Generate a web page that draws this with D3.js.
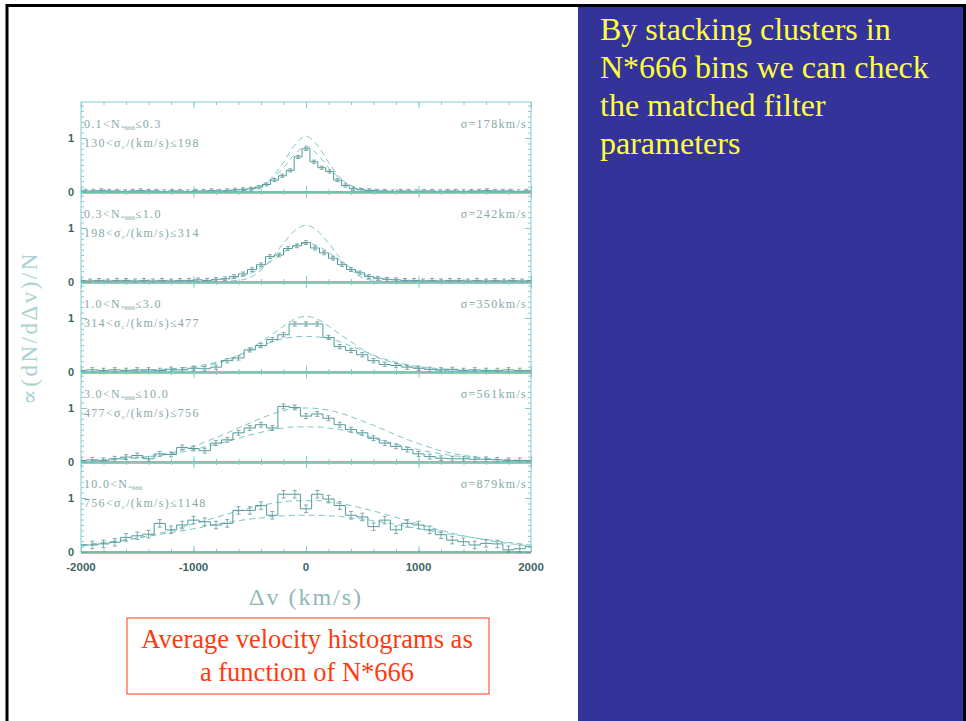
<!DOCTYPE html>
<html>
<head>
<meta charset="utf-8">
<script src="https://cdn.jsdelivr.net/npm/d3@7"></script>
<style>
	html, body { margin: 0; padding: 0; background: #fff; overflow: hidden; }
</style>
</head>
<body>
<div id="slide"></div>
<script>
	// ---- data ----
	var velocityTicks = [-2000, -1000, 0, 1000, 2000];
	var minorVelocityTicks = d3.range(-2000, 2001, 200);
	var nLower = ["0.1", "0.3", "1.0", "3.0", "10.0"];
	var nUpper = ["0.3", "1.0", "3.0", "10.0", null];
	var sigmaLower = ["130", "198", "314", "477", "756"];
	var sigmaUpper = ["198", "314", "477", "756", "1148"];
	var sigmaFit = [178, 242, 350, 561, 879];

	// histogram bins are centred on 0: bin k spans (k-0.5)*w .. (k+0.5)*w
	var binWidths = [70, 80, 100, 100, 100];
	var binFirstK = [-28, -25, -20, -20, -20];
	var errHalf = [0.03, 0.035, 0.04, 0.045, 0.07];

	var hist1 = [0.02,0.02,0.03,0.02,0.02,0.01,0.02,0.03,0.02,0.02,0.01,0.02,0.02,0.01,0.02,0.02,0.03,0.02,0.03,0.04,
		0.05,0.06,0.09,0.14,0.22,0.30,0.40,0.65,0.80,0.56,0.45,0.38,0.22,0.12,0.06,0.04,0.03,
		0.02,0.02,0.01,0.02,0.02,0.01,0.02,0.02,0.01,0.02,0.02,0.01,0.02,0.02,0.03,0.02,0.02,0.02,0.01,0.02];
	var hist2 = [0.03,0.02,0.03,0.02,0.03,0.03,0.02,0.03,0.02,0.03,0.02,0.03,0.03,0.04,0.03,0.05,0.06,
		0.10,0.15,0.23,0.32,0.47,0.50,0.62,0.67,0.73,0.63,0.54,0.44,0.32,0.23,0.17,0.10,0.07,0.05,
		0.04,0.03,0.03,0.02,0.03,0.02,0.03,0.03,0.02,0.03,0.02,0.03,0.02,0.03,0.02,0.03];
	var hist3 = [0.03,0.04,0.03,0.04,0.03,0.04,0.04,0.03,0.05,0.04,
		0.07,0.06,0.09,0.21,0.26,0.41,0.49,0.60,0.69,0.89,0.89,0.89,0.64,0.47,0.40,0.32,0.21,0.14,0.12,0.09,0.07,0.05,
		0.04,0.05,0.03,0.04,0.03,0.03,0.04,0.03,0.03];
	var hist4 = [0.03,0.04,0.03,0.06,0.09,0.12,0.06,0.15,0.14,0.27,0.25,0.21,0.35,0.41,0.54,0.63,0.69,0.63,1.03,1.01,
		0.85,0.89,0.81,0.69,0.60,0.54,0.44,0.35,0.29,0.23,0.15,0.10,0.07,0.06,0.06,0.05,0.05,0.04,0.03,0.03,0.03];
	var hist5 = [0.13,0.13,0.15,0.18,0.27,0.30,0.33,0.53,0.41,0.50,0.59,0.56,0.50,0.53,0.77,0.77,0.86,0.68,1.07,1.07,
		0.80,1.07,0.98,0.86,0.68,0.65,0.47,0.59,0.41,0.53,0.50,0.41,0.32,0.22,0.19,0.13,0.16,0.15,0.04,0.06,0.10];

	// dashed model curves sampled on a common velocity grid
	var fitGrid = [-2000,-1600,-1200,-1000,-800,-600,-500,-400,-300,-200,-100,0,100,200,300,400,500,600,800,1000,1200,1600,2000];
	var fitHigh1 = [0.01,0.01,0.01,0.01,0.01,0.02,0.04,0.10,0.27,0.55,0.87,1.03,0.87,0.55,0.27,0.10,0.04,0.02,0.01,0.01,0.01,0.01,0.01];
	var fitLow1  = [0.01,0.01,0.01,0.01,0.01,0.03,0.06,0.12,0.25,0.45,0.70,0.85,0.70,0.45,0.25,0.12,0.06,0.03,0.01,0.01,0.01,0.01,0.01];
	var fitHigh2 = [0.01,0.01,0.01,0.01,0.01,0.03,0.08,0.22,0.45,0.72,0.95,1.05,0.95,0.72,0.45,0.22,0.08,0.03,0.01,0.01,0.01,0.01,0.01];
	var fitLow2  = [0.01,0.01,0.01,0.02,0.04,0.09,0.15,0.26,0.40,0.55,0.67,0.72,0.67,0.55,0.40,0.26,0.15,0.09,0.04,0.02,0.01,0.01,0.01];
	var fitHigh3 = [0.00,0.01,0.03,0.07,0.16,0.30,0.42,0.56,0.70,0.85,0.98,1.03,0.98,0.85,0.70,0.56,0.42,0.30,0.16,0.07,0.03,0.01,0.00];
	var fitLow3  = [0.01,0.02,0.06,0.10,0.18,0.31,0.40,0.48,0.56,0.62,0.65,0.66,0.65,0.62,0.56,0.48,0.40,0.31,0.18,0.10,0.06,0.02,0.01];
	var fitHigh4 = [0.02,0.06,0.17,0.29,0.45,0.63,0.72,0.81,0.89,0.95,0.99,1.00,0.99,0.96,0.91,0.84,0.76,0.68,0.50,0.34,0.21,0.07,0.02];
	var fitLow4  = [0.02,0.06,0.15,0.23,0.33,0.44,0.50,0.55,0.60,0.63,0.65,0.65,0.65,0.63,0.60,0.55,0.50,0.44,0.33,0.23,0.15,0.06,0.02];
	var fitHigh5 = [0.11,0.22,0.40,0.52,0.64,0.76,0.81,0.86,0.90,0.93,0.95,0.95,0.95,0.93,0.90,0.86,0.81,0.76,0.64,0.52,0.40,0.22,0.11];
	var fitLow5  = [0.13,0.23,0.36,0.43,0.51,0.58,0.61,0.63,0.66,0.67,0.68,0.68,0.68,0.67,0.66,0.63,0.61,0.58,0.51,0.43,0.36,0.23,0.13];

	var histograms = [hist1, hist2, hist3, hist4, hist5];
	var fitsHigh = [fitHigh1, fitHigh2, fitHigh3, fitHigh4, fitHigh5];
	var fitsLow = [fitLow1, fitLow2, fitLow3, fitLow4, fitLow5];

	var bulletLines = ["By stacking clusters in", "N*666 bins we can check", "the matched filter", "parameters"];
	var captionLines = ["Average velocity histograms as", "a function of N*666"];

	// ---- layout ----
	var W = 966, H = 721;
	var plotLeft = 81, plotRight = 531;
	var panelZero = [192, 282, 372, 462, 552];
	var panelHeight = 90;
	var unitPx = 54;

	var frameColor = "#86cccc";
	var histColor = "#4f9c9c";
	var fitColor = "#7cc6c6";
	var labelColor = "#86a8a8";
	var tickTextColor = "#3f6464";
	var serif = "'Liberation Serif', 'DejaVu Serif', serif";

	var svg = d3.select("#slide").append("svg")
		.attr("width", W)
		.attr("height", H)
		.style("display", "block");

	svg.append("rect").attr("width", W).attr("height", H).attr("fill", "#fff");

	// right hand text panel
	svg.append("rect")
		.attr("x", 578).attr("y", 6)
		.attr("width", 386).attr("height", H)
		.attr("fill", "#333399");

	svg.append("g").selectAll("text")
		.data(bulletLines)
		.join("text")
		.attr("x", 600)
		.attr("y", (d, i) => 40 + i * 38)
		.style("font-family", serif)
		.style("font-size", "32px")
		.style("fill", "#ffff40")
		.text(d => d);

	// slide border
	svg.append("rect")
		.attr("x", 7).attr("y", 5.5)
		.attr("width", 957.5).attr("height", 760)
		.attr("fill", "none")
		.attr("stroke", "#000")
		.attr("stroke-width", 3);

	var x = d3.scaleLinear().domain([-2000, 2000]).range([plotLeft, plotRight]);

	var chart = svg.append("g");

	histograms.forEach(function(hist, i){
		var zero = panelZero[i];
		var top = zero - panelHeight;
		var y = d3.scaleLinear().domain([0, panelHeight / unitPx]).range([zero, top]);
		var g = chart.append("g");

		// ticks on all four sides, pointing inward
		var tickGroup = g.append("g");
		var addAxis = function(axis, tx, ty){
			var a = tickGroup.append("g")
				.attr("transform", `translate(${tx},${ty})`)
				.call(axis);
			a.select(".domain").remove();
			a.selectAll("text").remove();
			a.selectAll("line").attr("stroke", frameColor);
		};
		addAxis(d3.axisBottom(x).tickValues(minorVelocityTicks).tickSize(3), 0, top);
		addAxis(d3.axisBottom(x).tickValues(velocityTicks).tickSize(6), 0, top);
		addAxis(d3.axisTop(x).tickValues(minorVelocityTicks).tickSize(3), 0, zero);
		addAxis(d3.axisTop(x).tickValues(velocityTicks).tickSize(6), 0, zero);
		var yMinor = d3.range(0, 1.65, 0.1);
		addAxis(d3.axisRight(y).tickValues(yMinor).tickSize(3), plotLeft, 0);
		addAxis(d3.axisRight(y).tickValues([0, 1]).tickSize(6), plotLeft, 0);
		addAxis(d3.axisLeft(y).tickValues(yMinor).tickSize(3), plotRight, 0);
		addAxis(d3.axisLeft(y).tickValues([0, 1]).tickSize(6), plotRight, 0);

		g.append("rect")
			.attr("x", plotLeft).attr("y", top)
			.attr("width", plotRight - plotLeft).attr("height", panelHeight)
			.attr("fill", "none")
			.attr("stroke", frameColor)
			.attr("stroke-width", 1);

		// dashed model curves
		var fitLine = d3.line()
			.x((d, k) => x(fitGrid[k]))
			.y(d => y(d))
			.curve(d3.curveMonotoneX);
		[fitsHigh[i], fitsLow[i]].forEach(function(fit){
			g.append("path")
				.attr("d", fitLine(fit))
				.attr("fill", "none")
				.attr("stroke", fitColor)
				.attr("stroke-width", 1)
				.attr("stroke-dasharray", "6,4");
		});

		// histogram as steps
		var w = binWidths[i];
		var bins = hist.map(function(v, j){
			var k = binFirstK[i] + j;
			return {
				x0: Math.max(-2000, (k - 0.5) * w),
				x1: Math.min(2000, (k + 0.5) * w),
				xc: k * w,
				v: v
			};
		});
		var steps = [];
		bins.forEach(function(b){
			steps.push([b.x0, b.v]);
			steps.push([b.x1, b.v]);
		});
		g.append("path")
			.attr("d", d3.line().x(d => x(d[0])).y(d => y(d[1]))(steps))
			.attr("fill", "none")
			.attr("stroke", histColor)
			.attr("stroke-width", 1);

		// error bars
		var err = errHalf[i];
		var eb = g.append("g").attr("stroke", "#6a9494").attr("stroke-width", 0.8);
		var shown = bins.filter(b => b.xc > -2000 && b.xc < 2000);
		eb.selectAll("line.v").data(shown).join("line")
			.attr("class", "v")
			.attr("x1", d => x(d.xc)).attr("x2", d => x(d.xc))
			.attr("y1", d => y(d.v + err)).attr("y2", d => y(Math.max(0, d.v - err)));
		eb.selectAll("line.t").data(shown).join("line")
			.attr("class", "t")
			.attr("x1", d => x(d.xc) - 2).attr("x2", d => x(d.xc) + 2)
			.attr("y1", d => y(d.v + err)).attr("y2", d => y(d.v + err));
		eb.selectAll("line.b").data(shown).join("line")
			.attr("class", "b")
			.attr("x1", d => x(d.xc) - 2).attr("x2", d => x(d.xc) + 2)
			.attr("y1", d => y(Math.max(0, d.v - err))).attr("y2", d => y(Math.max(0, d.v - err)));

		// zero line with its red ghost
		g.append("line")
			.attr("x1", plotLeft).attr("x2", plotRight)
			.attr("y1", y(0) + 1.5).attr("y2", y(0) + 1.5)
			.attr("stroke", "#f3a0a0").attr("stroke-width", 1);
		g.append("line")
			.attr("x1", plotLeft).attr("x2", plotRight)
			.attr("y1", y(0)).attr("y2", y(0))
			.attr("stroke", i === 0 ? "#3fa5a5" : "#5e7f7f")
			.attr("stroke-width", i === 0 ? 1.6 : 1);

		// y tick labels
		g.selectAll("text.ytick")
			.data([0, 1])
			.join("text")
			.attr("class", "ytick")
			.attr("x", 71)
			.attr("y", d => y(d))
			.attr("dy", "0.36em")
			.attr("text-anchor", "middle")
			.style("font-family", "'Liberation Sans', Arial, sans-serif")
			.style("font-weight", "bold")
			.style("font-size", "11px")
			.style("fill", tickTextColor)
			.text(d => d);

		// panel annotations
		var t1 = g.append("text")
			.attr("x", 84).attr("y", zero - 64)
			.style("font-family", serif)
			.style("font-size", "12px")
			.style("letter-spacing", "1.3px")
			.style("fill", labelColor);
		t1.append("tspan").text(nLower[i] + "<N");
		t1.append("tspan").attr("dy", 2).style("font-size", "7px").style("letter-spacing", "0px").text("*666");
		t1.append("tspan").attr("dy", -2).text(nUpper[i] ? "≤" + nUpper[i] : "");

		var t2 = g.append("text")
			.attr("x", 84).attr("y", zero - 45)
			.style("font-family", serif)
			.style("font-size", "12px")
			.style("letter-spacing", "1.3px")
			.style("fill", labelColor);
		t2.append("tspan").text(sigmaLower[i] + "<σ");
		t2.append("tspan").attr("dy", 2).style("font-size", "7px").text("c");
		t2.append("tspan").attr("dy", -2).text("/(km/s)≤" + sigmaUpper[i]);

		g.append("text")
			.attr("x", 527).attr("y", zero - 64)
			.attr("text-anchor", "end")
			.style("font-family", serif)
			.style("font-size", "12px")
			.style("letter-spacing", "1.3px")
			.style("fill", labelColor)
			.text("σ=" + sigmaFit[i] + "km/s");
	});

	// x tick labels under the bottom panel
	chart.append("g").selectAll("text")
		.data(velocityTicks)
		.join("text")
		.attr("x", d => x(d))
		.attr("y", 571)
		.attr("text-anchor", "middle")
		.style("font-family", "'Liberation Sans', Arial, sans-serif")
		.style("font-weight", "bold")
		.style("font-size", "11.5px")
		.style("fill", tickTextColor)
		.text(d => d);

	// axis titles
	chart.append("text")
		.attr("x", 306).attr("y", 605)
		.attr("text-anchor", "middle")
		.style("font-family", serif)
		.style("font-size", "24px")
		.style("letter-spacing", "2px")
		.style("fill", "#8fb8b8")
		.text("Δv (km/s)");

	chart.append("text")
		.attr("transform", "translate(37,328) rotate(-90)")
		.attr("text-anchor", "middle")
		.style("font-family", serif)
		.style("font-size", "23px")
		.style("letter-spacing", "2.5px")
		.style("fill", "#a9d2d2")
		.text("∝(dN/dΔv)/N");

	// caption box
	svg.append("rect")
		.attr("x", 127).attr("y", 618)
		.attr("width", 362).attr("height", 76)
		.attr("fill", "none")
		.attr("stroke", "#ff5a3a")
		.attr("stroke-width", 1.2);

	svg.append("g").selectAll("text")
		.data(captionLines)
		.join("text")
		.attr("x", 307)
		.attr("y", (d, i) => 648 + i * 33)
		.attr("text-anchor", "middle")
		.style("font-family", serif)
		.style("font-size", "26.5px")
		.style("fill", "#ff3a10")
		.text(d => d);
</script>
</body>
</html>
